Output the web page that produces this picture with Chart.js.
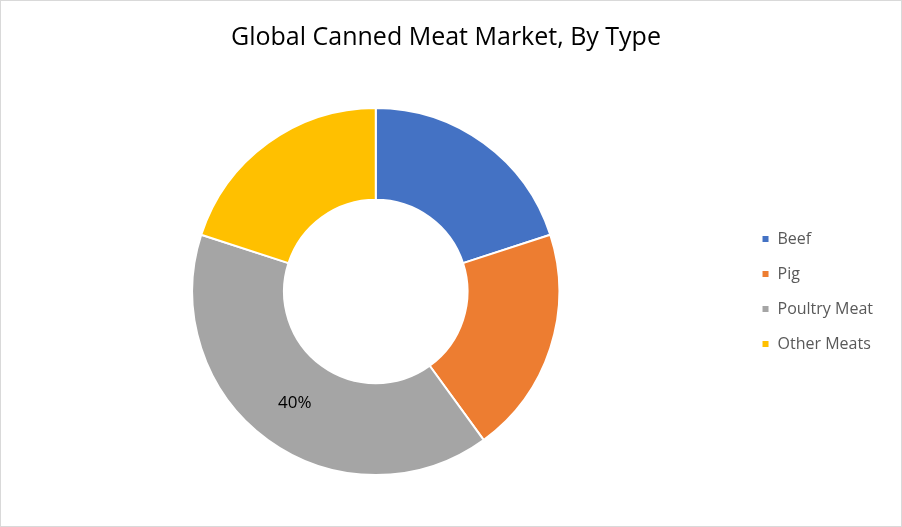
<!DOCTYPE html>
<html>
<head>
<meta charset="utf-8">
<script src="https://cdn.jsdelivr.net/npm/chart.js@4"></script>
<style>
  html, body { margin: 0; padding: 0; background: #fff; }
  #wrap { width: 902px; height: 527px; box-sizing: border-box; border: 1px solid #d9d9d9; position: relative; }
</style>
</head>
<body>
<div id="wrap"><canvas id="chart"></canvas></div>
<script>
const categories = ['Beef', 'Pig', 'Poultry Meat', 'Other Meats'];
const shares = [20, 20, 40, 20];
const sliceLabels = ['', '', '40%', ''];
const colors = ['#4472C4', '#ED7D31', '#A5A5A5', '#FFC000'];

// draws the one percentage label that sits inside the poultry slice
const sliceLabelPlugin = {
    id: 'sliceLabels',
    afterDatasetsDraw(chart) {
        const ctx = chart.ctx;
        const meta = chart.getDatasetMeta(0);
        ctx.save();
        ctx.font = '17px "Open Sans"';
        ctx.fillStyle = '#000';
        ctx.textAlign = 'center';
        ctx.textBaseline = 'middle';
        meta.data.forEach((arc, i) => {
            if (!sliceLabels[i]) return;
            const p = arc.tooltipPosition();
            ctx.fillText(sliceLabels[i], p.x, p.y);
        });
        ctx.restore();
    }
};

window.onload = function() {
    var ctx = document.getElementById('chart').getContext('2d');
    new Chart(ctx, {
        type: 'doughnut',
        data: {
            labels: categories,
            datasets: [{
                data: shares,
                backgroundColor: colors,
                borderColor: '#ffffff',
                borderWidth: 2
            }]
        },
        options: {
            responsive: true,
            maintainAspectRatio: false,
            animation: false,
            cutout: '50%',
            layout: { padding: { top: 0, bottom: 50, left: 8, right: 18 } },
            plugins: {
                title: {
                    display: true,
                    text: 'Global Canned Meat Market, By Type',
                    color: '#000',
                    font: { family: 'Open Sans', size: 25, weight: 'normal' },
                    padding: { top: 22, bottom: 54 }
                },
                legend: {
                    position: 'right',
                    fullSize: false,
                    labels: {
                        color: '#595959',
                        font: { family: 'Open Sans', size: 16 },
                        boxWidth: 8,
                        boxHeight: 8,
                        padding: 19
                    }
                },
                tooltip: { enabled: false }
            }
        },
        plugins: [sliceLabelPlugin]
    });
};
</script>
</body>
</html>
